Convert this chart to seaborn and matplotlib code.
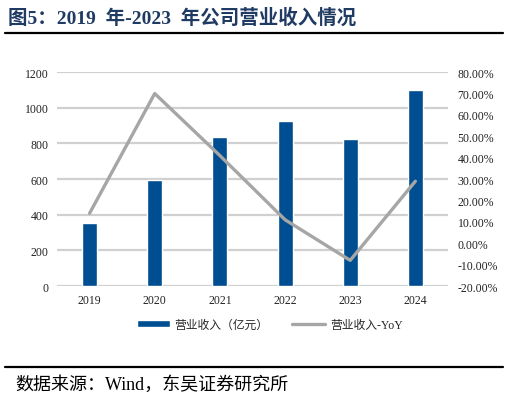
import pandas as pd
import seaborn as sns
import matplotlib.pyplot as plt
from matplotlib.lines import Line2D
from matplotlib.ticker import FuncFormatter

# --- 数据 ---
years = ['2019', '2020', '2021', '2022', '2023', '2024']
revenue = [353, 594, 837, 927, 826, 1099]          # 营业收入（亿元）
revenue_yoy = [14.0, 70.0, 41.0, 11.0, -8.0, 29.0]  # 营业收入-YoY (%)

BAR_NAME = '营业收入（亿元）'
LINE_NAME = '营业收入-YoY'

df = pd.DataFrame({'year': years, 'revenue': revenue, 'yoy': revenue_yoy})
df['pos'] = df.index

sns.set_theme(style='white')
plt.rcParams['font.family'] = ['Liberation Serif', 'Noto Sans CJK SC']
plt.rcParams['axes.unicode_minus'] = False

fig = plt.figure(figsize=(5.09, 4.02), dpi=100)
ax = fig.add_axes([0.112, 0.286, 0.768, 0.532])

sns.barplot(data=df, x='year', y='revenue', color='#004e92', saturation=1,
            width=0.23, ax=ax, label=BAR_NAME)
ax.set_ylim(0, 1200)
ax.set_yticks(range(0, 1201, 200))
ax.yaxis.grid(True, color='#d0d0d0', linewidth=1.6)
ax.set_axisbelow(True)
ax.set_xlabel('')
ax.set_ylabel('')
ax.tick_params(axis='both', labelsize=8.5, colors='#222222', length=0, pad=6)
for s in ax.spines.values():
    s.set_visible(False)

ax2 = ax.twinx()
sns.lineplot(data=df, x='pos', y='yoy', color='#a6a6a6', linewidth=2.4,
             ax=ax2, label=LINE_NAME, legend=False)
ax2.set_ylim(-20, 80)
ax2.set_yticks(range(-20, 81, 10))
ax2.yaxis.set_major_formatter(FuncFormatter(lambda v, p: f'{v:.2f}%'))
ax2.set_ylabel('')
ax2.set_xlabel('')
ax2.tick_params(axis='y', labelsize=8.5, colors='#222222', length=0, pad=7)
for s in ax2.spines.values():
    s.set_visible(False)
ax.set_xlim(-0.5, len(years) - 0.5)

# 图例
h1, l1 = ax.get_legend_handles_labels()
h2, l2 = ax2.get_legend_handles_labels()
if ax.get_legend():
    ax.get_legend().remove()
fig.legend(h1 + h2, l1 + l2, loc='center', bbox_to_anchor=(0.53, 0.19),
           ncol=2, frameon=False, fontsize=8.5, handlelength=2.8,
           handleheight=0.5, columnspacing=2.0, handletextpad=0.4)

# 标题与来源
fig.text(0.016, 0.955, '图5：2019  年-2023  年公司营业收入情况', fontsize=14,
         fontweight='bold', color='#1f3a63', va='center')
fig.add_artist(Line2D([0.01, 0.988], [1 - 34 / 402] * 2, color='black', linewidth=1.6))
fig.add_artist(Line2D([0.01, 0.988], [1 - 368 / 402] * 2, color='black', linewidth=1.6))
fig.text(0.03, 1 - 385 / 402, '数据来源：Wind，东吴证券研究所', fontsize=13,
         color='black', va='center')

fig.savefig('out.png', dpi=100)
